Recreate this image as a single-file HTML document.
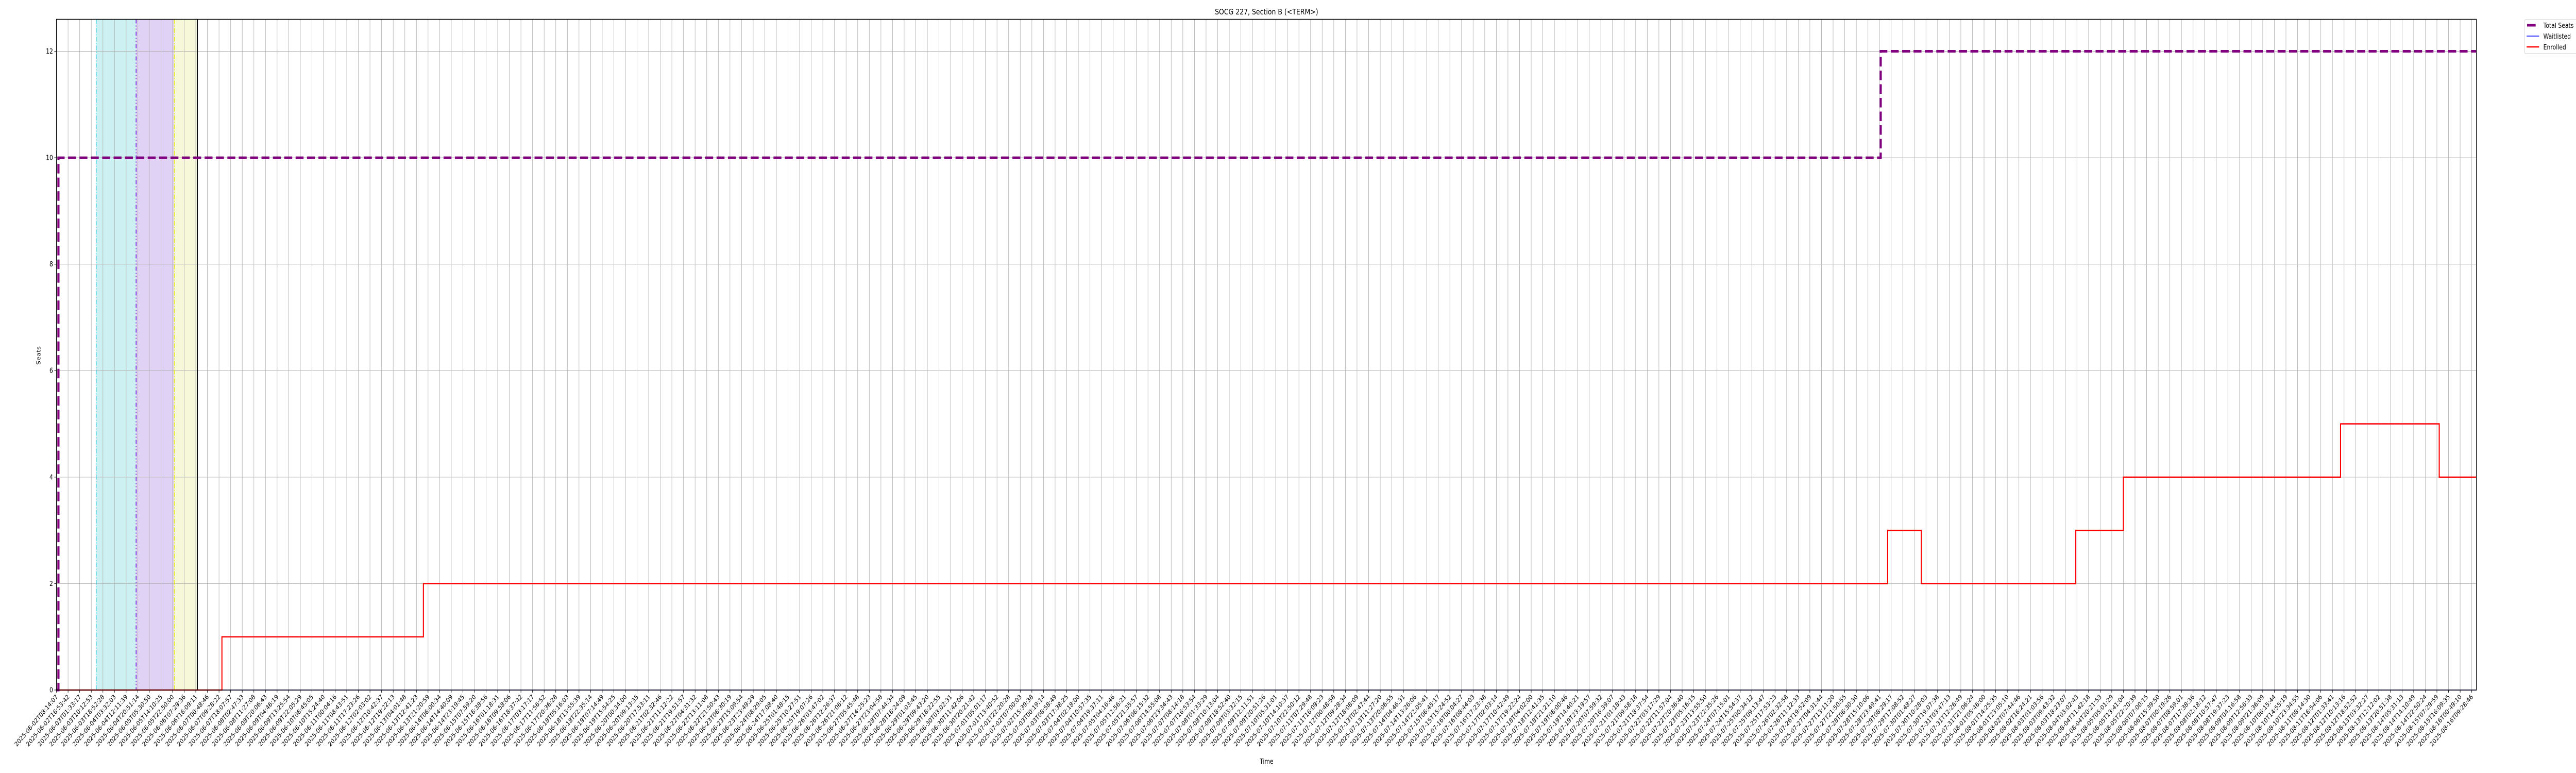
<!DOCTYPE html>
<html><head><meta charset="utf-8"><style>
html,body{margin:0;padding:0;background:#fff;overflow:hidden;width:100%;height:100%;}
svg{display:block;width:100vw;height:100vh;font-family:"DejaVu Sans","Liberation Sans",sans-serif;}
</style></head><body>
<svg id="chart" viewBox="0 0 6000 1500" preserveAspectRatio="none" xmlns="http://www.w3.org/2000/svg">
<g id="bands"></g>
<g id="grid"></g>
<g id="vlines"></g>
<g id="series"></g>
<rect x="131.5" y="37.5" width="5636.5" height="1301.5" fill="none" stroke="#000" stroke-width="1.5"/>
<g id="axes"></g>
<text x="2950" y="28" font-size="15" text-anchor="middle">SOCG 227, Section B (&lt;TERM&gt;)</text>
<text x="2950" y="1482" font-size="13" text-anchor="middle">Time</text>
<text x="0" y="0" font-size="13" text-anchor="middle" transform="translate(94,690) rotate(-90)">Seats</text>
<g>
<rect x="5880" y="38" width="130" height="66" rx="3" fill="#fff" stroke="#d0d0d0" stroke-width="1"/>
<line x1="5886" y1="49" x2="5906" y2="49" stroke="#800080" stroke-width="5"/>
<text x="5924" y="54" font-size="13">Total Seats</text>
<line x1="5885" y1="70" x2="5914" y2="70" stroke="#0000ff" stroke-width="1.5"/>
<text x="5924" y="75" font-size="13">Waitlisted</text>
<line x1="5885" y1="91" x2="5914" y2="91" stroke="#ff0000" stroke-width="2.5"/>
<text x="5924" y="96" font-size="13">Enrolled</text>
</g>
</svg>
<script>
// x positions are in "tick index" units (each tick = one labelled timestamp)
const yTicks = [0, 2, 4, 6, 8, 10, 12];
const seatsX = [0, 0.17, 157.1, 208.4];
const seatsY = [0, 10, 12, 12];
const enrolledX = [0, 14.25, 31.6, 157.7, 160.6, 173.9, 178.0, 196.7, 205.2, 208.4];
const enrolledY = [0, 1, 2, 3, 2, 3, 4, 5, 4, 4];
const waitX = [0, 208.4];
const waitY = [0, 0];
const bandStart = [3.42, 6.86, 10.15];
const bandEnd = [6.86, 10.15, 12.14];
const firstLabel = "2025-06-02T08:14:07";
const lastLabel = "2025-08-16T09:28:46";
const tickCount = 209;

const NS = "http://www.w3.org/2000/svg";
const L = 131.5, R = 5768, T = 37.5, B = 1339;
const X0 = 0, X1 = 208.4, Y0 = 0, Y1 = 12.6;
const sx = v => L + (v - X0) / (X1 - X0) * (R - L);
const sy = v => B - (v - Y0) / (Y1 - Y0) * (B - T);
function mk(tag, attrs, parent) {
  const e = document.createElementNS(NS, tag);
  for (const k in attrs) e.setAttribute(k, attrs[k]);
  parent.appendChild(e);
  return e;
}
const g = id => document.getElementById(id);

const bandFill = ["#cdf0f2", "#e0d2f4", "#f7f8da"];
const bandNames = ["band-period-1", "band-period-2", "band-period-3"];
bandStart.forEach((s, i) => {
  const r = mk("rect", {x: sx(s), y: T, width: sx(bandEnd[i]) - sx(s), height: B - T, fill: bandFill[i]}, g("bands"));
  
  
});

function pad(n){return String(n).padStart(2,"0");}
const t0 = Date.parse(firstLabel + "Z"), t1 = Date.parse(lastLabel + "Z");
const tickLabels = [];
for (let i = 0; i < tickCount; i++) {
  const d = new Date(t0 + (t1 - t0) * i / (tickCount - 1));
  tickLabels.push(d.getUTCFullYear() + "-" + pad(d.getUTCMonth()+1) + "-" + pad(d.getUTCDate()) + "T" + pad(d.getUTCHours()) + ":" + pad(d.getUTCMinutes()) + ":" + pad(d.getUTCSeconds()));
}
tickLabels[0] = firstLabel; tickLabels[tickCount-1] = lastLabel;

tickLabels.forEach((lab, i) => {
  const x = sx(i);
  const gl = mk("line", {x1: x, y1: T, x2: x, y2: B, stroke: "#b0b0b0", "stroke-width": 1}, g("grid"));
  
  
  const tk = mk("line", {x1: x, y1: B, x2: x, y2: B + 5, stroke: "#000", "stroke-width": 1}, g("axes"));
  
  
  const tx = mk("text", {x: 0, y: 0, "font-size": 12.5, "text-anchor": "end", transform: `translate(${x + 4},${B + 14}) rotate(-45)`}, g("axes"));
  
  
  tx.textContent = lab;
});
yTicks.forEach(v => {
  const y = sy(v);
  const gl = mk("line", {x1: L, y1: y, x2: R, y2: y, stroke: "#b0b0b0", "stroke-width": 1}, g("grid"));
  
  
  const tk = mk("line", {x1: L - 5, y1: y, x2: L, y2: y, stroke: "#000", "stroke-width": 1}, g("axes"));
  
  
  const tx = mk("text", {x: L - 8, y: y + 4.5, "font-size": 13, "text-anchor": "end"}, g("axes"));
  
  
  tx.textContent = v;
});

const vl = [
  {x: bandStart[0], c: "#17c3d0", d: "9,3,2,3", w: 1.5, n: "marker-line-1"},
  {x: bandStart[1], c: "#7a2ee0", d: "8,4,2,4,2,4", w: 2, n: "marker-line-2"},
  {x: bandStart[2], c: "#e8e820", d: "9,3,2,3", w: 2, n: "marker-line-3"},
  {x: bandEnd[2], c: "#000", d: "none", w: 2, n: "marker-line-4"}
];
vl.forEach(o => {
  const e = mk("line", {x1: sx(o.x), y1: T, x2: sx(o.x), y2: B, stroke: o.c, "stroke-width": o.w, "stroke-dasharray": o.d}, g("vlines"));
  
  
});

function stepPath(xs, ys) {
  let d = `M${sx(xs[0])},${sy(ys[0])}`;
  for (let i = 1; i < xs.length; i++) {
    d += ` L${sx(xs[i])},${sy(ys[i-1])} L${sx(xs[i])},${sy(ys[i])}`;
  }
  return d;
}
const wl = mk("path", {d: stepPath(waitX, waitY), fill: "none", stroke: "#0000ff", "stroke-width": 1.5}, g("series"));


const en = mk("path", {d: stepPath(enrolledX, enrolledY), fill: "none", stroke: "#ff0000", "stroke-width": 2.5}, g("series"));


const ts = mk("path", {d: stepPath(seatsX, seatsY), fill: "none", stroke: "#800080", "stroke-width": 5, "stroke-dasharray": "18.5,8"}, g("series"));


</script>
</body></html>
